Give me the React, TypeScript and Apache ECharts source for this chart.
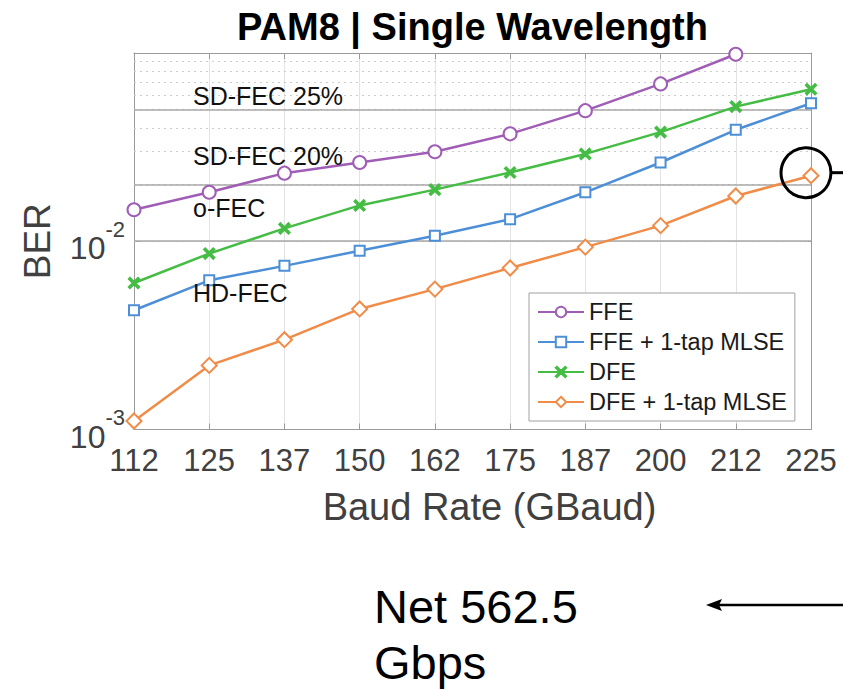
import React, { useEffect, useRef } from "react";
import * as echarts from "echarts";

const CATEGORIES = ["112", "125", "137", "150", "162", "175", "187", "200", "212", "225"];
const FFE = [0.0147, 0.0182, 0.023, 0.0262, 0.0299, 0.0372, 0.0494, 0.0685, 0.0985, null];
const FFE_MLSE = [0.0043, 0.0062, 0.0074, 0.0089, 0.0107, 0.0131, 0.0182, 0.0262, 0.0391, 0.0541];
const DFE = [0.006, 0.0086, 0.0117, 0.0155, 0.0188, 0.0232, 0.0291, 0.038, 0.0519, 0.0642];
const DFE_MLSE = [0.00111, 0.00219, 0.003, 0.00437, 0.00557, 0.00721, 0.00931, 0.0121, 0.0174, 0.0223];
const THRESHOLDS = [0.05, 0.024, 0.0126, 0.0045];
const THRESHOLD_LABELS = ["SD-FEC 25%", "SD-FEC 20%", "o-FEC", "HD-FEC"];
const MINOR_GRID = [0.002, 0.003, 0.004, 0.005, 0.006, 0.007, 0.008, 0.009, 0.02, 0.03, 0.04, 0.05, 0.06, 0.07, 0.08, 0.09];
const SERIES_NAMES = ["FFE", "FFE + 1-tap MLSE", "DFE", "DFE + 1-tap MLSE"];

const FONT = "'Liberation Sans', Arial, Helvetica, sans-serif";
const COLORS = ["#a05db5", "#4d8fd6", "#45bd45", "#f08c48"];
const CROSS = "path://M1,0L5,4L9,0L10,1L6,5L10,9L9,10L5,6L1,10L0,9L4,5L0,1Z";

export default function App() {
  const ref = useRef<HTMLDivElement>(null);
  useEffect(() => {
    if (!ref.current) return;
    const chart = echarts.init(ref.current, null, { renderer: "svg" });
    const mkSeries = (name: string, data: any[], color: string, symbol: string, size: number) => ({
      name,
      type: "line",
      data,
      z: 10,
      symbol,
      symbolSize: size,
      showSymbol: true,
      connectNulls: false,
      lineStyle: { color, width: 2.5 },
      itemStyle: { color, borderColor: color, borderWidth: 2.2 },
    });
    const option: any = {
      animation: false,
      backgroundColor: "#ffffff",
      textStyle: { fontFamily: FONT },
      grid: { left: 134, right: 32, top: 53, bottom: 259.5, containLabel: false },
      legend: {
        orient: "vertical",
        left: 529,
        top: 293,
        padding: [7, 8, 7, 8],
        itemGap: 6,
        itemWidth: 46,
        itemHeight: 13,
        backgroundColor: "#ffffff",
        borderColor: "#a0a0a0",
        borderWidth: 1,
        data: SERIES_NAMES,
        textStyle: { fontSize: 23.5, color: "#1a1a1a", fontFamily: FONT, lineHeight: 23.5 },
      },
      xAxis: [
        {
          type: "category",
          data: CATEGORIES,
          boundaryGap: false,
          axisLine: { show: true, lineStyle: { color: "#9a9a9a", width: 1 } },
          axisTick: { show: true, inside: true, length: 6, lineStyle: { color: "#9a9a9a" } },
          axisLabel: { fontSize: 31, color: "#404040", margin: 15, fontFamily: FONT },
          splitLine: { show: true, lineStyle: { color: "#e3e3e3", width: 1 } },
        },
        {
          type: "category",
          data: CATEGORIES,
          boundaryGap: false,
          position: "top",
          axisLine: { show: true, lineStyle: { color: "#9a9a9a", width: 1 } },
          axisTick: { show: true, inside: true, length: 6, lineStyle: { color: "#9a9a9a" } },
          axisLabel: { show: false },
          splitLine: { show: false },
        },
      ],
      yAxis: [
        {
          type: "log",
          logBase: 10,
          min: 0.001,
          max: 0.1,
          axisLine: { show: true, lineStyle: { color: "#9a9a9a", width: 1 } },
          axisTick: { show: true, inside: true, length: 6, lineStyle: { color: "#9a9a9a" } },
          splitLine: { show: true, lineStyle: { color: "#e3e3e3", width: 1 } },
          axisLabel: {
            margin: 9,
            formatter: (v: number) => {
              const e = Math.round(Math.log10(v));
              if (e >= -1) return "";
              return `{a|10}{b|${e}}`;
            },
            rich: {
              a: { fontSize: 32, color: "#404040", fontFamily: FONT, verticalAlign: "bottom", padding: [14, 0, 0, 0] },
              b: { fontSize: 22, color: "#404040", fontFamily: FONT, verticalAlign: "top" },
            },
          },
        },
        {
          type: "log",
          logBase: 10,
          min: 0.001,
          max: 0.1,
          position: "right",
          axisLine: { show: true, lineStyle: { color: "#9a9a9a", width: 1 } },
          axisTick: { show: true, inside: true, length: 6, lineStyle: { color: "#9a9a9a" } },
          axisLabel: { show: false },
          splitLine: { show: false },
        },
      ],
      series: [
        {
          name: "grid",
          type: "line",
          data: CATEGORIES.map(() => null),
          z: 1,
          silent: true,
          markLine: {
            silent: true,
            symbol: ["none", "none"],
            label: { show: false },
            lineStyle: { color: "#cccccc", width: 1, type: [2, 4] },
            data: MINOR_GRID.map((v) => ({ yAxis: v })),
          },
        },
        {
          name: "thresholds",
          type: "line",
          data: CATEGORIES.map(() => null),
          z: 2,
          silent: true,
          markLine: {
            silent: true,
            symbol: ["none", "none"],
            label: { show: false },
            lineStyle: { color: "#a8a8a8", width: 1.6, type: "solid" },
            data: THRESHOLDS.map((v) => ({ yAxis: v })),
          },
        },
        mkSeries(SERIES_NAMES[0], FFE, COLORS[0], "emptyCircle", 13),
        mkSeries(SERIES_NAMES[1], FFE_MLSE, COLORS[1], "emptyRect", 10),
        mkSeries(SERIES_NAMES[2], DFE, COLORS[2], CROSS, 10),
        mkSeries(SERIES_NAMES[3], DFE_MLSE, COLORS[3], "emptyDiamond", 15),
      ],
    };
    chart.setOption(option);

    const x0 = chart.convertToPixel({ xAxisIndex: 0 }, 0) as number;
    const xLast = chart.convertToPixel({ xAxisIndex: 0 }, CATEGORIES.length - 1) as number;
    const yTop = chart.convertToPixel({ yAxisIndex: 0 }, 0.1) as number;
    const yBot = chart.convertToPixel({ yAxisIndex: 0 }, 0.001) as number;
    const midX = (x0 + xLast) / 2;
    const lastPt = chart.convertToPixel({ xAxisIndex: 0, yAxisIndex: 0 }, [
      CATEGORIES.length - 1,
      DFE_MLSE[DFE_MLSE.length - 1],
    ]) as number[];

    const graphics: any[] = [
      {
        type: "text",
        x: midX,
        y: yTop - 26,
        style: { text: "PAM8 | Single Wavelength", font: `bold 38px ${FONT}`, fill: "#000", align: "center", verticalAlign: "middle" },
      },
      {
        type: "text",
        x: 37,
        y: (yTop + yBot) / 2,
        rotation: Math.PI / 2,
        style: { text: "BER", font: `37px ${FONT}`, fill: "#404040", align: "center", verticalAlign: "middle" },
      },
      {
        type: "text",
        x: midX + 17,
        y: yBot + 77,
        style: { text: "Baud Rate (GBaud)", font: `38px ${FONT}`, fill: "#404040", align: "center", verticalAlign: "middle" },
      },
      ...THRESHOLDS.map((v, i) => ({
        type: "text",
        x: x0 + 59,
        y: (chart.convertToPixel({ yAxisIndex: 0 }, v) as number) - 14,
        z: 20,
        style: { text: THRESHOLD_LABELS[i], font: `25px ${FONT}`, fill: "#111", align: "left", verticalAlign: "middle" },
      })),
      {
        type: "circle",
        z: 30,
        shape: { cx: lastPt[0] - 5, cy: lastPt[1] - 3, r: 25 },
        style: { fill: "none", stroke: "#000", lineWidth: 3 },
      },
      {
        type: "line",
        z: 30,
        shape: { x1: lastPt[0] + 20, y1: lastPt[1] - 3, x2: 843, y2: lastPt[1] - 3 },
        style: { stroke: "#000", lineWidth: 3 },
      },
      {
        type: "text",
        x: 374,
        y: 606,
        style: { text: "Net 562.5", font: `47px ${FONT}`, fill: "#000", align: "left", verticalAlign: "middle" },
      },
      {
        type: "text",
        x: 374,
        y: 662,
        style: { text: "Gbps", font: `47px ${FONT}`, fill: "#000", align: "left", verticalAlign: "middle" },
      },
      {
        type: "line",
        shape: { x1: 716, y1: 605, x2: 843, y2: 605 },
        style: { stroke: "#000", lineWidth: 2.5 },
      },
      {
        type: "polygon",
        shape: { points: [[706, 605], [722, 599], [719, 605], [722, 611]] },
        style: { fill: "#000" },
      },
    ];
    chart.setOption({ graphic: graphics });

    return () => chart.dispose();
  }, []);
  return (
    <div
      ref={ref}
      style={{ position: "absolute", left: 0, top: 0, width: 843, height: 689, background: "#fff" }}
    />
  );
}
